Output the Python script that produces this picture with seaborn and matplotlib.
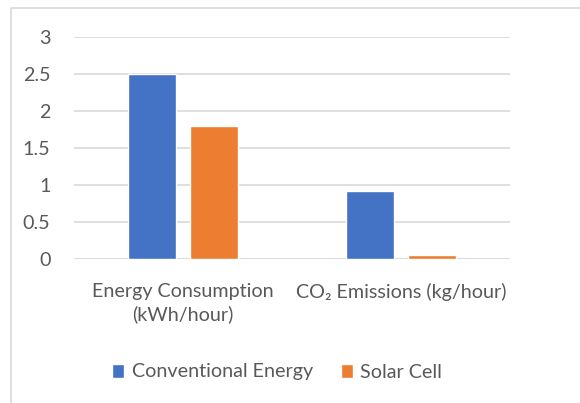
import matplotlib
matplotlib.use("Agg")
import matplotlib.pyplot as plt
from matplotlib.patches import Rectangle
import pandas as pd
import seaborn as sns

categories = ["Energy Consumption\n(kWh/hour)", "CO\u2082 Emissions (kg/hour)"]
series_names = ["Conventional Energy", "Solar Cell"]
conventional = [2.5, 0.92]
solar = [1.8, 0.05]
y_ticks = [0, 0.5, 1, 1.5, 2, 2.5, 3]
y_tick_labels = ["0", "0.5", "1", "1.5", "2", "2.5", "3"]

df = pd.DataFrame({
    "category": categories * 2,
    "source": [series_names[0]] * 2 + [series_names[1]] * 2,
    "value": conventional + solar,
})

sns.set_style("white")
plt.rcParams["font.family"] = ["Lato", "DejaVu Sans"]
text_color = "#595959"
grid_color = "#D9D9D9"
fs = 14.2

W, H = 580, 403
fig = plt.figure(figsize=(W / 100, H / 100), dpi=100)
ax = fig.add_axes([74 / W, 1 - 259 / H, (510 - 74) / W, (259 - 37) / H])

sns.barplot(data=df, x="category", y="value", hue="source",
            palette=["#4472C4", "#ED7D31"], saturation=1,
            width=0.57, gap=0.23, errorbar=None, ax=ax, legend=True,
            zorder=3)

ax.set_ylim(0, 3)
ax.set_xlim(-0.5, 1.5)
ax.set_yticks(y_ticks)
ax.set_yticklabels(y_tick_labels)
ax.yaxis.grid(True, color=grid_color, linewidth=1.2, zorder=0)
ax.set_axisbelow(True)
for side in ["left", "right", "top", "bottom"]:
    ax.spines[side].set_visible(False)
ax.axhline(0, color=grid_color, linewidth=1.2, zorder=1)
ax.set_xlabel("")
ax.set_ylabel("")
ax.tick_params(axis="y", length=0, pad=17, labelsize=fs, labelcolor=text_color)
ax.tick_params(axis="x", length=0, pad=17, labelsize=fs, labelcolor=text_color)
for lbl in ax.get_xticklabels():
    lbl.set_linespacing(1.35)

handles, labels = ax.get_legend_handles_labels()
ax.legend_.remove()
fig.legend(handles, labels, loc="center", bbox_to_anchor=(0.478, 1 - 372 / H),
           ncol=2, frameon=False, fontsize=fs, labelcolor=text_color,
           handlelength=0.6, handleheight=0.7, handletextpad=0.4,
           columnspacing=1.4)

# outer chart border (top and left edges visible)
fig.patches.append(Rectangle((11 / W, -0.2), 1.2, 1 - 8 / H + 0.2,
                             transform=fig.transFigure, fill=False,
                             edgecolor=grid_color, linewidth=1.2))

fig.savefig("out.png", dpi=100, facecolor="white")
